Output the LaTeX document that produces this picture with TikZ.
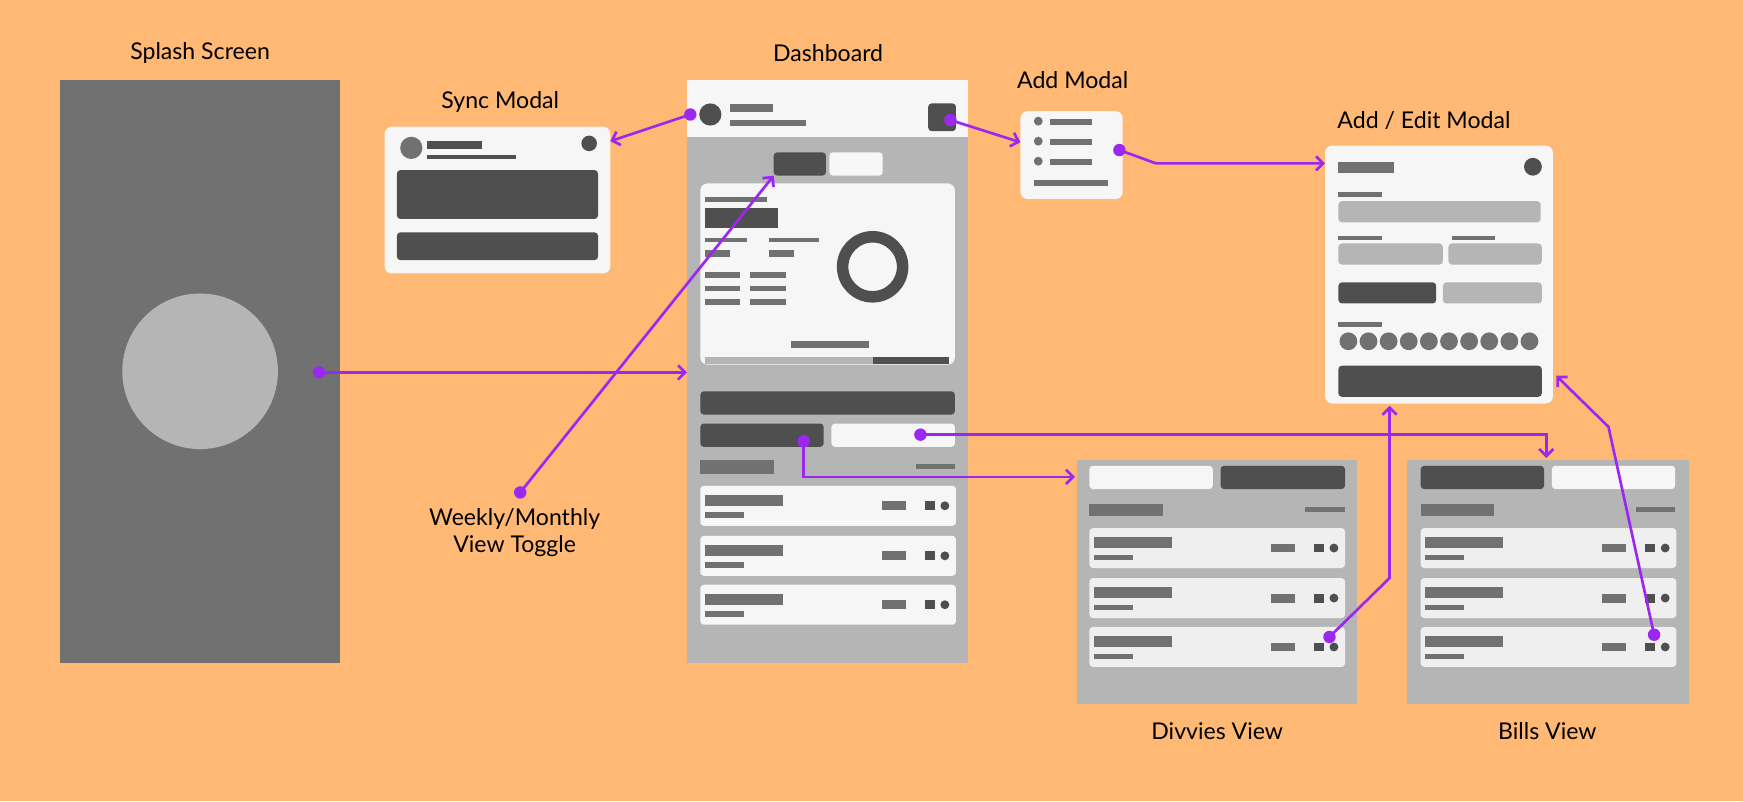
\documentclass[tikz,border=0pt]{standalone}
\usepackage{fontspec}
\setmainfont{Lato}
\usetikzlibrary{arrows.meta}
\definecolor{bg}{HTML}{FFB974}
\definecolor{paper}{HTML}{F6F6F6}
\definecolor{paperrow}{HTML}{EFEFEF}
\definecolor{lightgray}{HTML}{B5B5B5}
\definecolor{midgray}{HTML}{717171}
\definecolor{darkgray}{HTML}{4F4F4F}
\definecolor{link}{HTML}{9B27F0}

% one list row: x left, y top, fill
\newcommand\rowitem[3]{%
  \fill[#3,rounded corners=2pt] (#1,#2) rectangle ++(230,36);
  \fill[midgray] ({#1+4},{#2+8}) rectangle ++(70,10);
  \fill[midgray] ({#1+4},{#2+24}) rectangle ++(35,5);
  \fill[midgray] ({#1+163},{#2+14}) rectangle ++(22,8);
  \fill[darkgray] ({#1+202},{#2+14}) rectangle ++(9,8);
  \fill[darkgray] ({#1+220},{#2+18}) circle (4);
}

\begin{document}
\begin{tikzpicture}[x=0.022cm,y=-0.022cm,
    title/.style={font=\fontsize{13}{15}\selectfont, text=black},
    card/.style={fill=paper, rounded corners=4pt},
    btn/.style={rounded corners=2pt},
    dot/.style={circle, fill=link, inner sep=0pt, minimum size=7pt},
    flow/.style={draw=link, line width=1.5pt, -{Straight Barb[length=4pt,width=8pt]}}]
  \fill[bg] (0,0) rectangle (1568,721);
  \useasboundingbox (0,0) rectangle (1568,721);

  % splash screen
  \node[title] (splashT) at (180,48) {Splash Screen};
  \fill[midgray] (54,72) rectangle (306,596);
  \fill[lightgray] (180,334) circle (70);

  % sync modal
  \node[title] (syncT) at (450,92) {Sync Modal};
  \fill[card] (346,114) rectangle (549,246);
  \fill[midgray] (370,133) circle (10);
  \fill[darkgray] (384,127) rectangle (434,134);
  \fill[darkgray] (384,139) rectangle (464,143);
  \fill[darkgray] (530,129) circle (7);
  \fill[darkgray,btn] (357,153) rectangle (538,197);
  \fill[darkgray,btn] (357,209) rectangle (538,234);

  % dashboard
  \node[title] (dashT) at (745,48) {Dashboard};
  \fill[lightgray] (618,72) rectangle (871,596);
  \fill[paper] (618,72) rectangle (871,123);
  \fill[darkgray] (639,103) circle (10);
  \fill[midgray] (657,94) rectangle (695,101);
  \fill[midgray] (657,108) rectangle (725,113);
  \fill[darkgray,btn] (835,93) rectangle (860,118);
  \fill[darkgray,btn] (696,137) rectangle (743,158);
  \fill[paper,btn] (746,137) rectangle (794,158);
  \fill[card] (630,165) rectangle (859,328);
  \fill[midgray] (634,177) rectangle (690,182);
  \fill[darkgray] (634,187) rectangle (700,205);
  \fill[midgray] (634,214) rectangle (672,218);
  \fill[midgray] (692,214) rectangle (737,218);
  \fill[midgray] (634,225) rectangle (657,231);
  \fill[midgray] (692,225) rectangle (714,231);
  \foreach \y in {245,257,269} {
    \fill[midgray] (634,\y) rectangle ++(32,5);
    \fill[midgray] (675,\y) rectangle ++(32,5);
  }
  \draw[darkgray, line width=6.5pt] (785,240) circle (27);
  \fill[midgray] (712,307) rectangle (782,313);
  \fill[lightgray] (634,321) rectangle (785,327);
  \fill[darkgray] (785,321) rectangle (854,327);
  \fill[darkgray,btn] (630,352) rectangle (859,373);
  \fill[darkgray,btn] (630,381) rectangle (741,402);
  \fill[paper,btn] (748,381) rectangle (859,402);
  \fill[midgray] (630,414) rectangle (696,426);
  \fill[midgray] (824,417) rectangle (859,422);
  \foreach \y in {437,482,526} { \rowitem{630}{\y}{paper} }

  \node[title, align=center] (toggleT) at (463,479) {Weekly/Monthly\\View Toggle};

  % add modal
  \node[title] (addT) at (965,72) {Add Modal};
  \fill[card] (918,100) rectangle (1010,179);
  \foreach \y in {109,127,145} {
    \fill[midgray] (934,\y) circle (4);
    \fill[midgray] (945,{\y-2}) rectangle ++(37,5);
  }
  \fill[midgray] (930,162) rectangle (997,167);

  % add / edit modal
  \node[title] (editT) at (1281,108) {Add / Edit Modal};
  \fill[card] (1192,131) rectangle (1397,363);
  \fill[midgray] (1204,146) rectangle (1254,156);
  \fill[darkgray] (1379,150) circle (8);
  \fill[midgray] (1204,173) rectangle (1243,177);
  \fill[lightgray,btn] (1204,181) rectangle (1386,200);
  \fill[midgray] (1204,212) rectangle (1243,216);
  \fill[midgray] (1306,212) rectangle (1345,216);
  \fill[lightgray,btn] (1204,219) rectangle (1298,238);
  \fill[lightgray,btn] (1303,219) rectangle (1387,238);
  \fill[darkgray,btn] (1204,254) rectangle (1292,273);
  \fill[lightgray,btn] (1298,254) rectangle (1387,273);
  \fill[midgray] (1204,290) rectangle (1243,294);
  \foreach \i in {0,...,9} { \fill[midgray] ({1213+18.1*\i},307) circle (8); }
  \fill[darkgray,btn] (1204,329) rectangle (1387,357);

  % divvies view
  \node[title] (divT) at (1095,658) {Divvies View};
  \fill[lightgray] (969,414) rectangle (1221,633);
  \fill[paper,btn] (980,419) rectangle (1091,440);
  \fill[darkgray,btn] (1098,419) rectangle (1210,440);
  \fill[midgray] (980,453) rectangle (1046,464);
  \fill[midgray] (1174,456) rectangle (1210,461);
  \foreach \y in {475,520,564} { \rowitem{980}{\y}{paperrow} }

  % bills view
  \node[title] (billT) at (1392,658) {Bills View};
  \fill[lightgray] (1266,414) rectangle (1519,633);
  \fill[darkgray,btn] (1278,419) rectangle (1389,440);
  \fill[paper,btn] (1396,419) rectangle (1507,440);
  \fill[midgray] (1278,453) rectangle (1344,464);
  \fill[midgray] (1472,456) rectangle (1507,461);
  \foreach \y in {475,520,564} { \rowitem{1278}{\y}{paperrow} }

  % link ends
  \coordinate (splashOut) at (287,335);
  \coordinate (dashIn) at (618,335);
  \coordinate (toggleOut) at (468,443);
  \coordinate (toggleIn) at (696,158);
  \coordinate (avatarOut) at (621,103);
  \coordinate (syncIn) at (549,127);
  \coordinate (plusOut) at (855,108);
  \coordinate (addIn) at (918,128);
  \coordinate (addOut) at (1007,135);
  \coordinate (editIn) at (1192,147);
  \coordinate (divOut) at (723,397);
  \coordinate (divIn) at (967,429);
  \coordinate (billOut) at (828,391);
  \coordinate (billIn) at (1391,412);
  \coordinate (divEdit) at (1196,573);
  \coordinate (editBot) at (1250,365);
  \coordinate (billEdit) at (1488,571);
  \coordinate (editSide) at (1400,338);

  % links
  \draw[flow] (splashOut) -- (dashIn);
  \draw[flow] (toggleOut) -- (toggleIn);
  \draw[flow] (avatarOut) -- (syncIn);
  \draw[flow] (plusOut) -- (addIn);
  \draw[flow] (addOut) -- (1040,147) -- (editIn);
  \draw[flow] (divOut) |- (divIn);
  \draw[flow] (billOut) -| (billIn);
  \draw[flow] (divEdit) -- (1250,520) -- (editBot);
  \draw[flow] (billEdit) -- (1447,384) -- (editSide);
  \foreach \p in {splashOut,toggleOut,avatarOut,plusOut,addOut,divOut,billOut,divEdit,billEdit}
    \node[dot] at (\p) {};
\end{tikzpicture}
\end{document}
